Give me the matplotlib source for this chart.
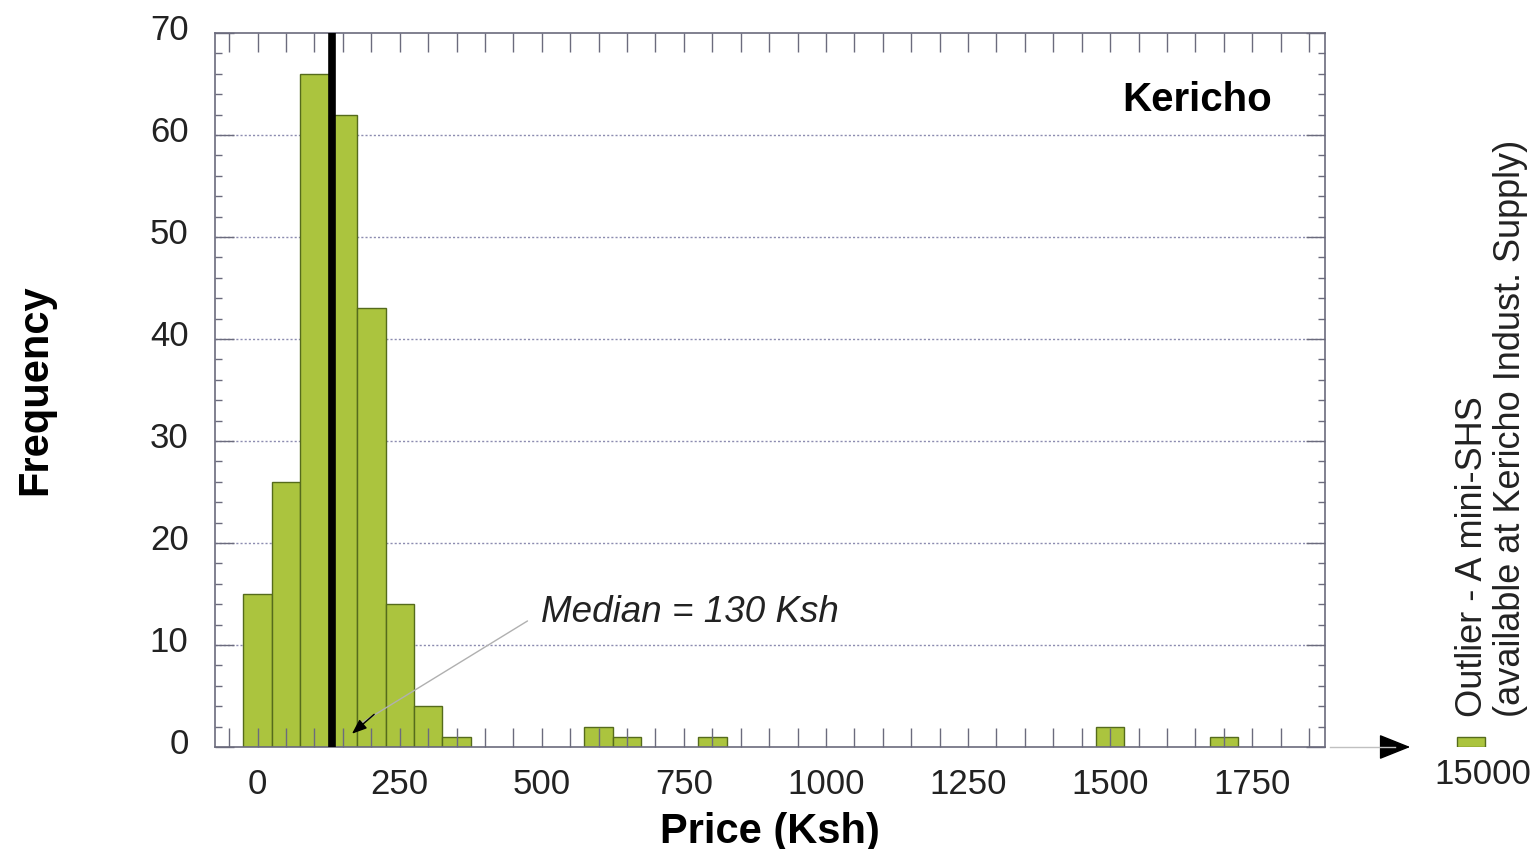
import matplotlib
matplotlib.use("Agg")
import matplotlib.pyplot as plt
from matplotlib.ticker import MultipleLocator
from matplotlib.transforms import ScaledTranslation

plt.rcParams['font.family'] = ['Liberation Sans', 'DejaVu Sans']

# histogram bins (bin centres, width 50 Ksh) and counts
bin_centers = [0, 50, 100, 150, 200, 250, 300, 350, 600, 650, 800, 1500, 1700]
counts = [15, 26, 66, 62, 43, 14, 4, 1, 2, 1, 1, 2, 1]
bin_width = 50
median_price = 130

# outlier shown outside the axis
outlier_price = [15000]
outlier_count = [1]

x_ticks = [0, 250, 500, 750, 1000, 1250, 1500, 1750]
y_ticks = [0, 10, 20, 30, 40, 50, 60, 70]

bar_color = '#abc43e'
edge_color = '#556b1c'
spine_color = '#6b6b7d'

W, H = 1539, 849
fig = plt.figure(figsize=(W / 100, H / 100), dpi=100)
ax = fig.add_axes([215 / W, 1 - 747 / H, 1110 / W, 714 / H])

# dotted grid drawn by hand so that the ticks can sit on top of the bars
for yt in y_ticks[1:-1]:
    ax.axhline(yt, ls=(0, (1.5, 1.5)), color='#8c8cb0', lw=1, zorder=0)

ax.bar(bin_centers, counts, width=bin_width, color=bar_color,
       edgecolor=edge_color, linewidth=1, zorder=1)
ax.axvline(median_price, color='black', lw=5.5, zorder=3)
ax.set_axisbelow(False)

ax.set_xlim(-75, 1878)
ax.set_ylim(0, 70)
ax.set_xticks(x_ticks)
ax.xaxis.set_minor_locator(MultipleLocator(50))
ax.set_yticks(y_ticks)
ax.yaxis.set_minor_locator(MultipleLocator(2))

ax.tick_params(axis='x', which='both', direction='in', length=14, width=1,
               color=spine_color, top=True, labelsize=25, pad=15,
               labelcolor='#222222')
ax.tick_params(axis='y', which='major', direction='in', length=14, width=1,
               color=spine_color, right=True, labelsize=25, pad=19,
               labelcolor='#222222')
ax.tick_params(axis='y', which='minor', direction='in', length=5, width=1,
               color=spine_color, right=True)
for lab in ax.get_yticklabels():
    lab.set_transform(lab.get_transform() + ScaledTranslation(0, 0.06, fig.dpi_scale_trans))
for s in ax.spines.values():
    s.set_color(spine_color)
    s.set_linewidth(1.2)

ax.set_xlabel('Price (Ksh)', fontsize=30, fontweight='bold', labelpad=8)
ax.set_ylabel('Frequency', fontsize=30, fontweight='bold', labelpad=68)

ax.text(0.952, 0.906, 'Kericho', transform=ax.transAxes, ha='right',
        va='center', fontsize=29, fontweight='bold')

# median annotation
ax.text(498, 13.2, 'Median = 130 Ksh', style='italic', fontsize=26.5,
        ha='left', va='center', color='#222222')
ax.annotate('', xy=(172, 2.0), xytext=(479, 12.5),
            arrowprops=dict(arrowstyle='-', color='#b0b0b0', lw=1))
ax.annotate('', xy=(166, 1.3), xytext=(205, 3.2),
            arrowprops=dict(arrowstyle='-|>,head_length=0.9,head_width=0.35',
                            color='black', lw=1, shrinkA=0, shrinkB=0))

# outlier panel
ax2 = fig.add_axes([1443 / W, 1 - 747 / H, 56 / W, 714 / H])
ax2.bar(outlier_price, outlier_count, width=bin_width, color=bar_color,
        edgecolor=edge_color, linewidth=1)
ax2.set_xlim(14950, 15050)
ax2.set_ylim(0, 70)
ax2.set_xticks(outlier_price)
ax2.set_xticklabels([str(p) for p in outlier_price])
ax2.set_yticks([])
ax2.tick_params(axis='x', length=0, labelsize=25, pad=8, labelcolor='#222222')
for lab in ax2.get_xticklabels():
    lab.set_transform(lab.get_transform() + ScaledTranslation(0.12, 0, fig.dpi_scale_trans))
for s in ax2.spines.values():
    s.set_visible(False)
ax2.patch.set_alpha(0)

fig.text(1473 / W, 1 - 717 / H, 'Outlier - A mini-SHS', rotation=90,
         ha='center', va='bottom', fontsize=26, color='#222222')
fig.text(1510 / W, 1 - 717 / H, '(available at Kericho Indust. Supply)',
         rotation=90, ha='center', va='bottom', fontsize=26, color='#222222')

# arrow to outlier
yb = 1 - 747 / H
fig.add_artist(plt.Line2D([1330 / W, 1395 / W], [yb, yb], color='#c0c0c0',
                          lw=1, transform=fig.transFigure))
fig.add_artist(matplotlib.patches.FancyArrowPatch(
    (1385 / W, yb), (1413 / W, yb), transform=fig.transFigure,
    arrowstyle='-|>,head_length=1.0,head_width=0.4', color='black', lw=1,
    mutation_scale=20))

fig.savefig('out.png', dpi=100)
